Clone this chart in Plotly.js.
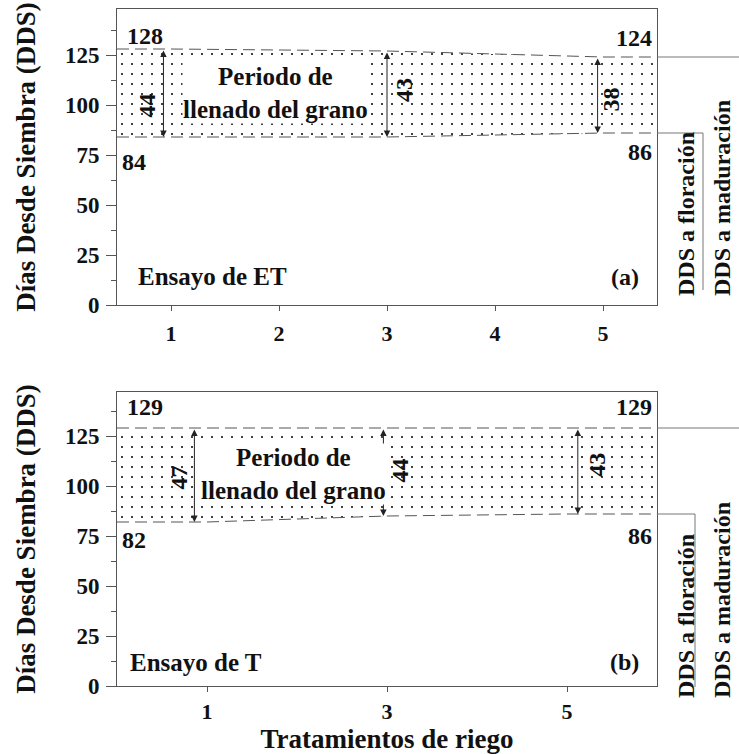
<!DOCTYPE html>
<html><head><meta charset="utf-8">
<script src="https://cdn.plot.ly/plotly-3.0.1.min.js"></script>
<style>html,body{margin:0;padding:0;background:#fff;} #chart{width:739px;height:754px;}</style>
</head><body><div id="chart"></div>
<script>
// ---------- data ----------
const tratamientosA = [1, 3, 5];
const floracionA = [84, 84, 86];
const maduracionA = [128, 127, 124];
const llenadoA = [44, 43, 38];

const tratamientosB = [1, 3, 5];
const floracionB = [82, 85, 86];
const maduracionB = [129, 129, 129];
const llenadoB = [47, 44, 43];

const xTicksA = [1, 2, 3, 4, 5];
const xTicksB = [1, 3, 5];
const yTicks = [0, 25, 50, 75, 100, 125];

// ---------- layout helpers ----------
const W = 739, H = 754;
const xDom = [117 / W, 657 / W];
const yDomA = [1 - 305 / H, 1 - 9 / H];
const yDomB = [1 - 686 / H, 1 - 392 / H];
const xRangeA = [0.5, 5.5], xRangeB = [0, 6];
const yRangeA = [0, 148], yRangeB = [0, 147];
const FONT = 'Liberation Serif, Times New Roman, serif';
const INK = '#111';
const LINE = '#555';

function extend(xs, vs, rng) {
  return { x: [rng[0]].concat(xs, [rng[1]]), y: [vs[0]].concat(vs, [vs[vs.length - 1]]) };
}
function yPaper(v, dom, rng) { return dom[0] + (v - rng[0]) / (rng[1] - rng[0]) * (dom[1] - dom[0]); }
const minorTicks = yTicks.map(t => t + 12.5);

const traces = [];
function band(xs, flo, mad, rng, xa, ya) {
  const f = extend(xs, flo, rng), m = extend(xs, mad, rng);
  traces.push({ x: f.x, y: f.y, xaxis: xa, yaxis: ya, mode: 'lines', hoverinfo: 'skip',
    line: { color: LINE, width: 1, dash: '12px,6px' }, showlegend: false });
  traces.push({ x: m.x, y: m.y, xaxis: xa, yaxis: ya, mode: 'lines', hoverinfo: 'skip',
    fill: 'tonexty', fillcolor: 'white',
    fillpattern: { shape: '.', fgcolor: '#111', bgcolor: 'white', size: 10, solidity: 0.035 },
    line: { color: LINE, width: 1, dash: '12px,6px' }, showlegend: false });
}
band(tratamientosA, floracionA, maduracionA, xRangeA, 'x', 'y');
band(tratamientosB, floracionB, maduracionB, xRangeB, 'x2', 'y2');

const ann = [];
function txt(o) { ann.push(Object.assign({ showarrow: false, font: { family: FONT, size: 24, color: INK, weight: 'bold' } }, o)); }

function panel(xs, flo, mad, dur, xa, ya, arrowOff, numShift, numYShift, periodX, labels) {
  for (let i = 0; i < xs.length; i++) {
    const xp = xs[i] + arrowOff[i];
    ann.push({ xref: xa, yref: ya, axref: xa, ayref: ya, x: xp, y: flo[i], ax: xp, ay: mad[i],
      text: '', showarrow: true, arrowside: 'end+start', arrowhead: 2, startarrowhead: 2,
      arrowsize: 1.3, startarrowsize: 1.3, arrowwidth: 1, arrowcolor: '#222', standoff: 0, startstandoff: 0 });
    txt({ xref: xa, yref: ya, x: xp, y: (flo[i] + mad[i]) / 2, text: String(dur[i]), textangle: -90,
      xanchor: 'center', yanchor: 'middle', xshift: numShift[i], yshift: numYShift[i] });
  }
  txt({ xref: xa, yref: ya, x: periodX, y: 106, xanchor: 'center', yanchor: 'middle', text: 'Periodo de<br>llenado del grano',
    bgcolor: 'white', borderpad: 0, font: { family: FONT, size: 25, color: INK, weight: 'bold' } });
  const n = xs.length - 1;
  txt({ xref: xa + ' domain', yref: ya, x: 0.015, y: mad[0], xanchor: 'left', yanchor: 'bottom', yshift: labels.madL, text: String(mad[0]) });
  txt({ xref: xa + ' domain', yref: ya, x: 0.995, y: mad[n], xanchor: 'right', yanchor: 'bottom', yshift: labels.madR, text: String(mad[n]) });
  txt({ xref: xa + ' domain', yref: ya, x: 0.005, y: flo[0], xanchor: 'left', yanchor: 'top', yshift: labels.floL, text: String(flo[0]) });
  txt({ xref: xa + ' domain', yref: ya, x: 0.995, y: flo[n], xanchor: 'right', yanchor: 'top', yshift: labels.floR, text: String(flo[n]) });
  txt({ xref: xa + ' domain', yref: ya + ' domain', x: labels.ensX, y: labels.ensY, xanchor: 'left', yanchor: 'middle', text: labels.ensayo,
    font: { family: FONT, size: 25, color: INK, weight: 'bold' } });
  txt({ xref: xa + ' domain', yref: ya + ' domain', x: 0.94, y: labels.ensY, xanchor: 'center', yanchor: 'middle', text: labels.tag });
}
panel(tratamientosA, floracionA, maduracionA, llenadoA, 'x', 'y',
  [-0.07, 0, -0.05], [-16, 17, 13], [-12, 4, -5], 1.97,
  { madL: -2, madR: 4, floL: -10, floR: -4, ensX: 0.035, ensY: 0.095, ensayo: 'Ensayo de ET', tag: '(a)' });
panel(tratamientosB, floracionB, maduracionB, llenadoB, 'x2', 'y2',
  [-0.14, -0.04, 0.12], [-15, 17, 19], [-2, 2, 6], 1.96,
  { madL: 6, madR: 6, floL: -3, floR: -7, ensX: 0.02, ensY: 0.08, ensayo: 'Ensayo de T', tag: '(b)' });

// right-side legend labels
const sideFont = { family: FONT, size: 24, color: INK, weight: 'bold' };
[[1 - 298 / H], [1 - 700 / H]].forEach(([yb]) => {
  ann.push({ xref: 'paper', yref: 'paper', x: 686 / W, y: yb, xanchor: 'center', yanchor: 'bottom', textangle: -90, showarrow: false, text: 'DDS a floración', font: sideFont });
  ann.push({ xref: 'paper', yref: 'paper', x: 722 / W, y: yb, xanchor: 'center', yanchor: 'bottom', textangle: -90, showarrow: false, text: 'DDS a maduración', font: sideFont });
});

const shapes = [];
function bracket(flo, mad, dom, rng, xv, yEnd) {
  const ym = yPaper(mad, dom, rng), yf = yPaper(flo, dom, rng);
  shapes.push({ type: 'line', xref: 'paper', yref: 'paper', x0: xDom[1], x1: 1, y0: ym, y1: ym, line: { color: '#777', width: 1 } });
  shapes.push({ type: 'line', xref: 'paper', yref: 'paper', x0: xDom[1], x1: xv, y0: yf, y1: yf, line: { color: '#777', width: 1 } });
  shapes.push({ type: 'line', xref: 'paper', yref: 'paper', x0: xv, x1: xv, y0: yf, y1: yEnd, line: { color: '#777', width: 1 } });
}
bracket(floracionA[2], maduracionA[2], yDomA, yRangeA, 703 / W, 1 - 290 / H);
bracket(floracionB[2], maduracionB[2], yDomB, yRangeB, 695 / W, 1 - 687 / H);

const tickFont = { family: FONT, size: 23, color: INK, weight: 'bold' };
const xTickFont = { family: FONT, size: 22, color: INK, weight: 'bold' };
const titleFont = { family: FONT, size: 27, color: INK, weight: 'bold' };
function xAxis(dom, rng, tv, anchor, standoff) {
  return { domain: dom, range: rng, anchor: anchor, tickmode: 'array', tickvals: tv, ticktext: tv.map(String),
    ticks: 'outside', ticklen: 5, tickcolor: LINE, showline: true, mirror: true, linecolor: LINE, linewidth: 1,
    showgrid: false, zeroline: false, tickfont: xTickFont, ticklabelstandoff: standoff, automargin: false, fixedrange: true };
}
function yAxis(dom, rng, anchor) {
  return { domain: dom, range: rng, anchor: anchor, tickmode: 'array', tickvals: yTicks, ticktext: yTicks.map(String),
    ticks: 'outside', ticklen: 10, tickcolor: LINE,
    minor: { tickmode: 'array', tickvals: minorTicks, ticks: 'outside', ticklen: 5, tickcolor: LINE },
    showline: true, mirror: true, linecolor: LINE, linewidth: 1, showgrid: false, zeroline: false,
    tickfont: tickFont, ticklabelstandoff: 2, automargin: false, fixedrange: true,
    title: { text: 'Días Desde Siembra (DDS)', font: titleFont, standoff: 21 } };
}
const xa2 = xAxis(xDom, xRangeB, xTicksB, 'y2', 1);
xa2.title = { text: 'Tratamientos de riego', font: titleFont, standoff: 12 };

const layout = {
  width: W, height: H, margin: { l: 0, r: 0, t: 0, b: 0 },
  paper_bgcolor: 'white', plot_bgcolor: 'white', showlegend: false,
  font: { family: FONT, size: 23, color: INK },
  xaxis: xAxis(xDom, xRangeA, xTicksA, 'y', 4),
  yaxis: yAxis(yDomA, yRangeA, 'x'),
  xaxis2: xa2,
  yaxis2: yAxis(yDomB, yRangeB, 'x2'),
  annotations: ann, shapes: shapes
};
Plotly.newPlot('chart', traces, layout, { displayModeBar: false, staticPlot: true });
</script></body></html>
